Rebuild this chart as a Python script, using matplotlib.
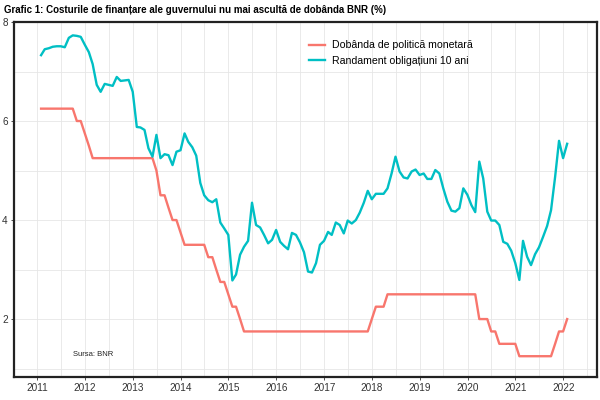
import numpy as np
import pandas as pd
import matplotlib
matplotlib.use("Agg")
import matplotlib.pyplot as plt
import matplotlib.dates as mdates

plt.rcParams['font.family'] = ['Liberation Sans', 'DejaVu Sans']

# monthly data, Jan 2011 - Jan 2022 (month end)
dates = pd.date_range("2011-01-31", periods=133, freq="ME")

policy_rate = (
    [6.25] * 9 + [6.0, 6.0, 5.75]                                   # 2011
    + [5.5] + [5.25] * 11                                           # 2012
    + [5.25] * 5 + [5.0, 4.5, 4.5, 4.25, 4.0, 4.0, 3.75]            # 2013
    + [3.5] * 6 + [3.25, 3.25, 3.0, 2.75, 2.75, 2.5]                # 2014
    + [2.25, 2.25, 2.0] + [1.75] * 9                                # 2015
    + [1.75] * 12                                                   # 2016
    + [1.75] * 11 + [2.0]                                           # 2017
    + [2.25, 2.25, 2.25] + [2.5] * 9                                # 2018
    + [2.5] * 12                                                    # 2019
    + [2.5, 2.5, 2.0, 2.0, 2.0, 1.75, 1.75] + [1.5] * 5             # 2020
    + [1.25] * 9 + [1.5, 1.75, 1.75]                                # 2021
    + [2.0]                                                         # 2022
)

bond_yield_10y = [
    7.33, 7.45, 7.47, 7.50, 7.51, 7.51, 7.49, 7.68, 7.73, 7.72, 7.70, 7.54,  # 2011
    7.39, 7.15, 6.73, 6.59, 6.75, 6.73, 6.71, 6.89, 6.81, 6.82, 6.83, 6.59,  # 2012
    5.88, 5.87, 5.82, 5.45, 5.28, 5.72, 5.25, 5.33, 5.31, 5.11, 5.38, 5.41,  # 2013
    5.75, 5.58, 5.47, 5.30, 4.75, 4.50, 4.40, 4.36, 4.42, 3.95, 3.83, 3.70,  # 2014
    2.78, 2.90, 3.30, 3.46, 3.58, 4.35, 3.90, 3.85, 3.70, 3.53, 3.60, 3.80,  # 2015
    3.56, 3.48, 3.41, 3.74, 3.70, 3.55, 3.35, 2.96, 2.94, 3.13, 3.50, 3.58,  # 2016
    3.76, 3.70, 3.95, 3.90, 3.73, 3.99, 3.93, 4.00, 4.15, 4.35, 4.59, 4.42,  # 2017
    4.53, 4.53, 4.53, 4.64, 4.94, 5.28, 4.98, 4.86, 4.84, 4.98, 5.02, 4.91,  # 2018
    4.94, 4.83, 4.83, 5.01, 4.94, 4.64, 4.37, 4.19, 4.17, 4.24, 4.64, 4.51,  # 2019
    4.30, 4.16, 5.18, 4.84, 4.17, 3.99, 3.99, 3.90, 3.56, 3.52, 3.38, 3.13,  # 2020
    2.79, 3.58, 3.26, 3.09, 3.31, 3.45, 3.66, 3.88, 4.20, 4.87, 5.60, 5.25,  # 2021
    5.54,                                                                    # 2022
]

fig = plt.figure(figsize=(6, 4), dpi=100)
ax = fig.add_axes([0.0233, 0.0575, 0.9717, 0.8875])

ax.plot(dates, policy_rate, color="#F8766D", linewidth=1.7,
        label="Dobânda de politică monetară")
ax.plot(dates, bond_yield_10y, color="#00BFC4", linewidth=1.7,
        label="Randament obligațiuni 10 ani")

ax.set_xlim(pd.Timestamp("2010-07-08"), pd.Timestamp("2022-09-16"))
ax.set_ylim(0.83, 8.0)

ax.xaxis.set_major_locator(mdates.YearLocator())
ax.xaxis.set_major_formatter(mdates.DateFormatter("%Y"))
ax.xaxis.set_minor_locator(mdates.MonthLocator(bymonth=7))
ax.set_yticks([2, 4, 6, 8])
ax.set_yticks([1, 3, 5, 7], minor=True)

ax.grid(which="both", color="#e6e6e6", linewidth=0.6)
ax.set_axisbelow(True)
ax.tick_params(axis="both", which="major", labelsize=7.2, colors="#333333",
               length=2.5, width=0.6, pad=2)
ax.tick_params(axis="both", which="minor", length=0)
for s in ax.spines.values():
    s.set_linewidth(1.6)
    s.set_color("#222222")

ax.legend(loc="upper left", bbox_to_anchor=(0.49, 0.975), frameon=False,
          fontsize=7.6, handlelength=1.5, handletextpad=0.7, labelspacing=0.55)

ax.text(0.101, 0.06, "Sursa: BNR", transform=ax.transAxes, fontsize=5.5,
        color="#222222")
fig.text(0.007, 0.975, "Grafic 1: Costurile de finanțare ale guvernului nu mai ascultă de dobânda BNR (%)",
         fontsize=7, fontweight="bold", va="center", ha="left")

fig.savefig("out.png", dpi=100)
